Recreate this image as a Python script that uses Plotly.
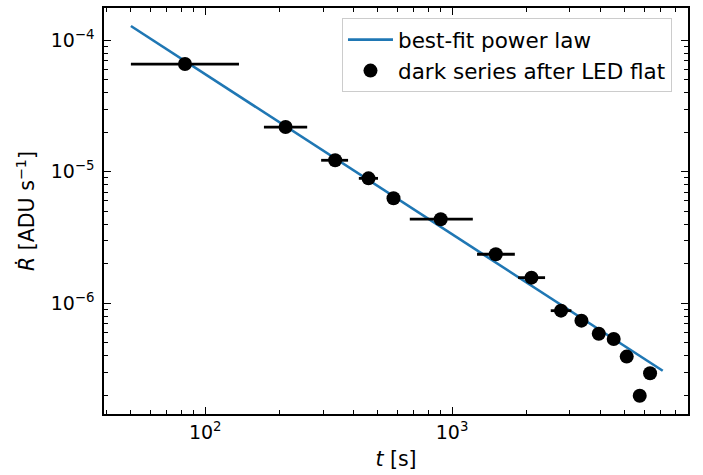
import plotly.graph_objects as go

# data
t = [82.8, 211.6, 336, 458.6, 579, 899, 1503, 2096, 2762, 3341, 3927, 4514, 5096, 5754, 6337]
t_lo = [50, 172.9, 294.8, 419, 560, 674, 1262, 1850, 2509, 3341, 3927, 4514, 5096, 5754, 6337]
t_hi = [137, 258.8, 379, 501, 600, 1213, 1795, 2380, 3043, 3341, 3927, 4514, 5096, 5754, 6337]
rate = [6.6e-5, 2.19e-5, 1.224e-5, 8.92e-6, 6.29e-6, 4.36e-6, 2.36e-6, 1.567e-6,
        8.79e-7, 7.38e-7, 5.87e-7, 5.35e-7, 3.93e-7, 1.98e-7, 2.94e-7]

fit_t = [50, 7130]
fit_rate = [1.285e-4, 3.07e-7]

x_tick_vals = [100, 1000]
x_tick_text = ["10<sup>2</sup>", "10<sup>3</sup>"]
y_tick_vals = [1e-6, 1e-5, 1e-4]
y_tick_text = ["10<sup>−6</sup>", "10<sup>−5</sup>", "10<sup>−4</sup>"]

err_plus = [h - v for h, v in zip(t_hi, t)]
err_minus = [v - l for l, v in zip(t_lo, t)]

# every decade position (1..9 x 10^n) gets a short mirrored tick; decades get a long one
x_all = [m * 10 ** e for e in (1, 2, 3) for m in range(1, 10)]
y_all = [m * 10 ** e for e in (-7, -6, -5, -4) for m in range(1, 10)]
x_all_text = [dict(zip(x_tick_vals, x_tick_text)).get(v, "") for v in x_all]
y_all_text = [dict(zip(y_tick_vals, y_tick_text)).get(v, "") for v in y_all]

X_RANGE = [1.590, 3.9555]
Y_RANGE = [-6.842, -3.754]

fig = go.Figure()
fig.add_trace(go.Scatter(
    x=fit_t, y=fit_rate, mode="lines", name="best-fit power law",
    line=dict(color="#1f77b4", width=2.6),
))
fig.add_trace(go.Scatter(
    x=t, y=rate, mode="markers", name="dark series after LED flat",
    marker=dict(color="black", size=14),
    error_x=dict(type="data", symmetric=False, array=err_plus, arrayminus=err_minus,
                 color="black", thickness=2.8, width=0),
))

font = "DejaVu Sans"
FS = 20.5
TFS = 19
LFS = 21.5
axis_common = dict(
    type="log", showgrid=False, zeroline=False, automargin=False,
    showline=True, linecolor="black", linewidth=1.5, mirror="allticks",
    ticks="inside", ticklen=4, tickwidth=1.1, tickcolor="black",
    tickfont=dict(family=font, size=TFS, color="black"),
)
long_common = dict(ticks="inside", ticklen=7, tickwidth=1.3, tickcolor="black")

fig.update_layout(
    width=703, height=475,
    margin=dict(l=104, r=15, t=8, b=61),
    paper_bgcolor="white", plot_bgcolor="white",
    font=dict(family=font, size=FS, color="black"),
    xaxis=dict(
        **axis_common,
        range=X_RANGE,
        tickmode="array", tickvals=x_all, ticktext=x_all_text,
        minor=dict(tickmode="array", tickvals=x_tick_vals, **long_common),
        title=dict(text="<i>t</i> [s]", font=dict(family=font, size=FS), standoff=10),
    ),
    yaxis=dict(
        **axis_common,
        range=Y_RANGE,
        tickmode="array", tickvals=y_all, ticktext=y_all_text,
        ticklabelstandoff=4,
        minor=dict(tickmode="array", tickvals=y_tick_vals, **long_common),
        title=dict(text="<i>Ṙ</i> [ADU s<sup>−1</sup>]", font=dict(family=font, size=FS), standoff=10),
    ),
    legend=dict(
        x=0.4075, y=0.975, xanchor="left", yanchor="top",
        bgcolor="rgba(255,255,255,0.8)", bordercolor="#cccccc", borderwidth=1,
        font=dict(family=font, size=LFS, color="black"),
        itemwidth=45,
    ),
    showlegend=True,
)

fig.write_html("out.html", config={"displayModeBar": False},
               post_script="document.body.style.margin='0';")
